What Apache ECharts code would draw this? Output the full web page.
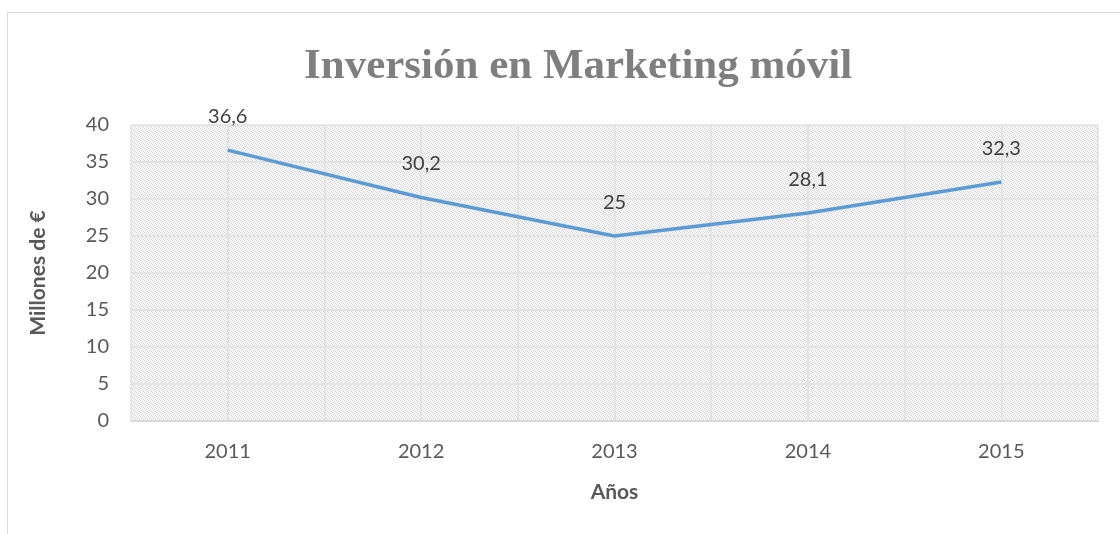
<!DOCTYPE html>
<html>
<head>
<meta charset="utf-8">
<script src="https://cdn.jsdelivr.net/npm/echarts@6/dist/echarts.min.js"></script>
<style>
    html, body { margin: 0; padding: 0; background: #fff; }
    #chart { width: 1120px; height: 534px; }
</style>
</head>
<body>
<div id="chart"></div>
<script>
var categories = ['2011', '2012', '2013', '2014', '2015'];
var inversion = [36.6, 30.2, 25, 28.1, 32.3];
var yTicks = [0, 5, 10, 15, 20, 25, 30, 35, 40];

// dotted fill of the plot area
var pat = document.createElement('canvas');
pat.width = 4; pat.height = 4;
var pc = pat.getContext('2d');
pc.fillStyle = '#f4f4f4';
pc.fillRect(0, 0, 4, 4);
pc.fillStyle = '#dadada';
pc.fillRect(0, 0, 1, 1);
pc.fillRect(2, 1, 1, 1);
pc.fillRect(1, 2, 1, 1);
pc.fillRect(3, 3, 1, 1);

var myChart = echarts.init(document.getElementById('chart'));
var font = 'Lato, "Open Sans", sans-serif';
var option = {
    backgroundColor: '#fff',
    animation: false,
    title: {
        text: 'Inversión en Marketing móvil',
        left: 299,
        top: 40,
        textStyle: {
            color: '#7f7f7f',
            fontFamily: '"Liberation Serif", "Times New Roman", serif',
            fontWeight: 'bold',
            fontSize: 43
        }
    },
    graphic: [{
        type: 'rect',
        shape: { x: 7.5, y: 12.5, width: 1200, height: 600 },
        style: { fill: 'none', stroke: '#d9d9d9', lineWidth: 1 },
        silent: true
    }],
    grid: {
        left: 131, top: 125, right: 22, bottom: 113,
        show: true,
        backgroundColor: { image: pat, repeat: 'repeat' },
        borderWidth: 0
    },
    xAxis: [{
        type: 'category',
        data: categories,
        boundaryGap: true,
        name: 'Años',
        nameLocation: 'middle',
        nameGap: 61,
        nameTextStyle: { color: '#595959', fontSize: 21, fontWeight: 'bold', fontFamily: font },
        axisLine: { show: true, lineStyle: { color: '#d9d9d9', width: 2 } },
        axisTick: { show: false },
        axisLabel: { color: '#595959', fontSize: 20, margin: 21, fontFamily: font },
        splitLine: { show: false }
    }, {
        type: 'value',
        min: 0, max: 10, interval: 1,
        show: true,
        position: 'bottom',
        axisLine: { show: false },
        axisTick: { show: false },
        axisLabel: { show: false },
        splitLine: { show: true, lineStyle: { color: '#e0e0e0', width: 1.5 } }
    }],
    yAxis: {
        type: 'value',
        min: yTicks[0],
        max: yTicks[yTicks.length - 1],
        interval: 5,
        name: 'Millones de €',
        nameLocation: 'middle',
        nameGap: 82,
        nameRotate: 90,
        nameTextStyle: { color: '#595959', fontSize: 21, fontWeight: 'bold', fontFamily: font },
        axisLine: { show: false },
        axisTick: { show: false },
        axisLabel: { color: '#595959', fontSize: 20, margin: 22, fontFamily: font },
        splitLine: { show: true, lineStyle: { color: '#e0e0e0', width: 1.5 } }
    },
    series: [{
        type: 'line',
        data: inversion,
        xAxisIndex: 0,
        symbol: 'circle',
        symbolSize: 1,
        showSymbol: true,
        itemStyle: { color: 'rgba(0,0,0,0)' },
        lineStyle: { color: '#5b9bd5', width: 3.5 },
        label: {
            show: true,
            position: 'top',
            distance: 23,
            color: '#404040',
            fontSize: 20,
            fontFamily: font,
            formatter: function (p) { return String(p.value).replace('.', ','); }
        }
    }]
};
myChart.setOption(option);
</script>
</body>
</html>
